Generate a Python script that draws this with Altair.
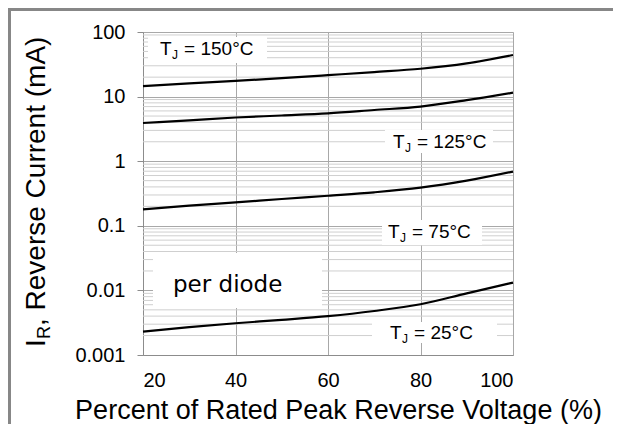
import altair as alt
import pandas as pd

# ---- data ----
pct = [20, 30, 40, 50, 60, 70, 80, 90, 100]
ir_150 = [14.5, 16.0, 17.5, 19.3, 21.5, 24.0, 27.0, 32.7, 44.0]
ir_125 = [3.9, 4.3, 4.75, 5.1, 5.5, 6.2, 7.0, 8.8, 11.5]
ir_75 = [0.18, 0.205, 0.23, 0.26, 0.292, 0.33, 0.389, 0.50, 0.69]
ir_25 = [0.0023, 0.0027, 0.0031, 0.0035, 0.0040, 0.0048, 0.0061, 0.0090, 0.0132]

x_ticks = [20, 40, 60, 80, 100]
y_ticks = [0.001, 0.01, 0.1, 1, 10, 100]
minor_grid = [round(k * 10.0 ** e, 6) for e in range(-3, 2) for k in range(2, 10)]

# annotation labels (data coordinates)
lab_rest = ["= 150°C", "= 125°C", "= 75°C", "= 25°C"]
lab_x = [23.7, 74.05, 72.97, 73.41]
lab_y = [44.0, 1.60, 0.0647, 0.00177]
box_x1 = [21.08, 72.32, 71.68, 69.51, 22.16]
box_x2 = [46.81, 95.68, 93.30, 96.54, 58.70]
box_y1 = [83.7, 3.04, 0.123, 0.00324, 0.0379]
box_y2 = [33.1, 1.34, 0.0505, 0.00154, 0.00534]

rows = []
for name, vals in [("150", ir_150), ("125", ir_125), ("75", ir_75), ("25", ir_25)]:
    for p, v in zip(pct, vals):
        rows.append({"pct": p, "ir": v, "tj": name})
curves = pd.DataFrame(rows)
labels = pd.DataFrame({"x": lab_x, "y": lab_y, "rest": lab_rest})
boxes = pd.DataFrame({"x1": box_x1, "x2": box_x2, "y1": box_y1, "y2": box_y2})
minor = pd.DataFrame({"v": minor_grid})
one = pd.DataFrame({"a": [0]})

FONT = "Liberation Sans"
xscale = alt.Scale(domain=[20, 100], nice=False)
yscale = alt.Scale(type="log", domain=[0.001, 100], nice=False)

xaxis = alt.Axis(
    values=x_ticks, title="Percent of Rated Peak Reverse Voltage (%)",
    grid=True, gridColor="#a8a8a8", ticks=False, tickSize=0,
    domainColor="#8c8c8c", labelFont=FONT, labelFontSize=20, labelColor="black",
    labelPadding=15, titleFont=FONT, titleFontSize=27, titleFontWeight="normal",
    titleColor="black", titleX=195, titleY=63, titleBaseline="alphabetic",
    titleAlign="center")
yaxis = alt.Axis(
    values=y_ticks, format="~g", title=None, grid=True, gridColor="#a8a8a8",
    tickSize=6, tickColor="#8c8c8c", domainColor="#8c8c8c", labelFont=FONT,
    labelFontSize=20, labelColor="black", labelPadding=12)


def X(f):
    return alt.X(f, scale=xscale, axis=xaxis)


def Y(f):
    return alt.Y(f, scale=yscale, axis=yaxis)


grid_minor = alt.Chart(minor).mark_rule(color="#cfcfcf", strokeWidth=1).encode(
    y=Y("v:Q")
)

rects = alt.Chart(boxes).mark_rect(fill="white").encode(
    x=X("x1:Q"), x2="x2:Q", y=Y("y1:Q"), y2="y2:Q",
)

lines = alt.Chart(curves).mark_line(color="black", strokeWidth=2.2, interpolate="monotone").encode(
    x=X("pct:Q"), y=Y("ir:Q"), detail="tj:N",
)

t_main = alt.Chart(labels).mark_text(text="T", font=FONT, fontSize=19, align="left",
                                     baseline="alphabetic", color="black").encode(
    x=X("x:Q"), y=Y("y:Q"))
t_sub = alt.Chart(labels).mark_text(text="J", font=FONT, fontSize=12, align="left",
                                    baseline="alphabetic", color="black", dx=12, dy=4).encode(
    x=X("x:Q"), y=Y("y:Q"))
t_rest = alt.Chart(labels).mark_text(font=FONT, fontSize=19, align="left",
                                     baseline="alphabetic", color="black", dx=24).encode(
    x=X("x:Q"), y=Y("y:Q"), text="rest:N")

per_diode = alt.Chart(pd.DataFrame({"x": [26.49], "y": [0.00944]})).mark_text(
    text="per diode", font="DejaVu Sans", fontSize=23, align="left",
    baseline="alphabetic", color="black").encode(x=X("x:Q"), y=Y("y:Q"))

# rotated y-axis title with subscript
yt1 = alt.Chart(one).mark_text(text="I", font=FONT, fontSize=28, angle=270, align="left",
                               baseline="alphabetic", color="black").encode(
    x=alt.value(-98), y=alt.value(315))
yt2 = alt.Chart(one).mark_text(text="R", font=FONT, fontSize=18, angle=270, align="left",
                               baseline="alphabetic", color="black").encode(
    x=alt.value(-93), y=alt.value(307))
yt3 = alt.Chart(one).mark_text(text=", Reverse Current (mA)", font=FONT, fontSize=28,
                               angle=270, align="left", baseline="alphabetic",
                               color="black").encode(
    x=alt.value(-98), y=alt.value(294))

# image frame (top and left)
frame_top = alt.Chart(one).mark_rule(color="#878787", strokeWidth=3).encode(
    x=alt.value(-135), x2=alt.value(470), y=alt.value(-22.5))
frame_left = alt.Chart(one).mark_rule(color="#878787", strokeWidth=3).encode(
    x=alt.value(-133.5), y=alt.value(-24), y2=alt.value(392))

chart = alt.layer(
    grid_minor, rects, lines, t_main, t_sub, t_rest, per_diode, yt1, yt2, yt3,
    frame_top, frame_left
).properties(
    width=370, height=323,
    autosize=alt.AutoSizeParams(type="none"),
    padding={"left": 135, "top": 24, "right": 100, "bottom": 69},
).configure_view(stroke=None).configure(background="white")

chart.save("out.html", embed_options={"renderer": "svg", "actions": False})
